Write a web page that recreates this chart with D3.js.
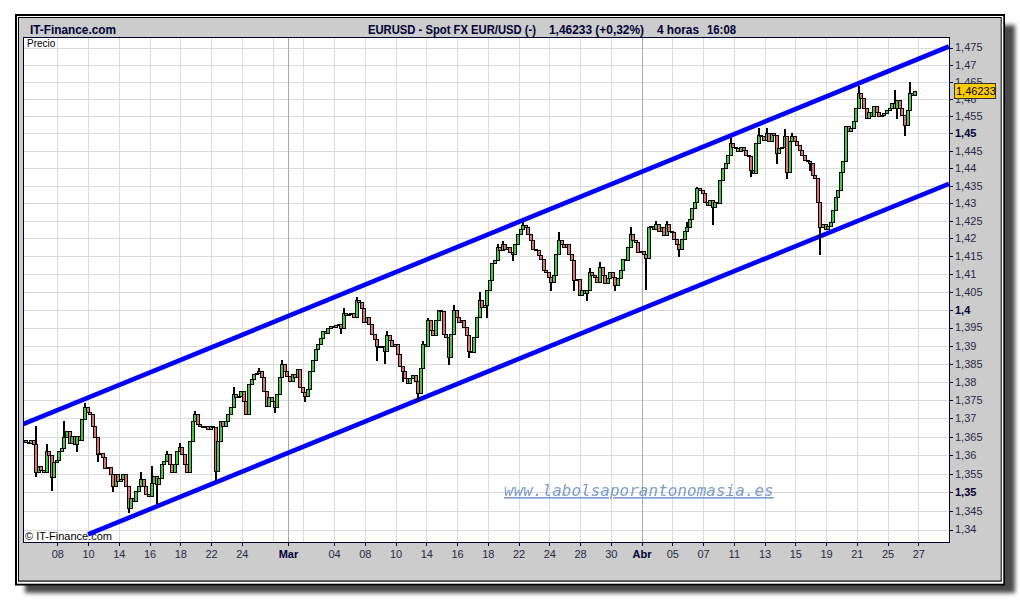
<!DOCTYPE html>
<html><head><meta charset="utf-8">
<script src="https://cdn.jsdelivr.net/npm/d3@7"></script>
<style>html,body{margin:0;padding:0;background:#fff;} svg{display:block}</style>
</head><body>
<script>
// ---------- DATA (4-hour EUR/USD closes) ----------
const closes = [
1.3635,1.3632,1.3640,1.3630,1.3553,1.3570,1.3560,1.3555,1.3610,1.3600,
1.3540,1.3580,1.3588,1.3610,1.3620,1.3648,1.3666,1.3634,1.3652,1.3630,
1.3652,1.3640,1.3698,1.3730,1.3717,1.3712,1.3680,1.3648,1.3603,1.3607,
1.3594,1.3566,1.3568,1.3548,1.3516,1.3548,1.3530,1.3535,1.3548,1.3516,
1.3457,1.3485,1.3475,1.3503,1.3516,1.3535,1.3516,1.3494,1.3489,1.3525,
1.3544,1.3521,1.3539,1.3575,1.3585,1.3603,1.3575,1.3553,1.3575,1.3612,
1.3621,1.3603,1.3575,1.3553,1.3639,1.3694,1.3712,1.3685,1.3680,1.3675,
1.3680,1.3671,1.3680,1.3675,1.3557,1.3639,1.3694,1.3680,1.3694,1.3712,
1.3730,1.3766,1.3757,1.3762,1.3775,1.3748,1.3712,1.3794,1.3807,1.3821,
1.3825,1.3830,1.3812,1.3775,1.3734,1.3757,1.3748,1.3730,1.3766,1.3812,
1.3848,1.3830,1.3816,1.3803,1.3821,1.3812,1.3835,1.3785,1.3771,1.3762,
1.3780,1.3830,1.3860,1.3890,1.3905,1.3920,1.3940,1.3935,1.3950,1.3955,
1.3952,1.3956,1.3960,1.3950,1.3989,1.3984,1.3987,1.3989,1.3980,1.4026,
1.4022,1.4003,1.3965,1.3980,1.3961,1.3933,1.3919,1.3900,1.3895,1.3900,
1.3886,1.3928,1.3914,1.3900,1.3905,1.3877,1.3844,1.3830,1.3811,1.3797,
1.3811,1.3820,1.3802,1.3769,1.3839,1.3905,1.3900,1.3970,1.3942,1.3928,
1.3970,1.3998,1.3995,1.3933,1.3923,1.3867,1.3933,1.3998,1.3980,1.3965,
1.3970,1.3951,1.3928,1.3886,1.3881,1.3923,1.3980,1.4026,1.4007,1.4012,
1.4054,1.4082,1.4129,1.4138,1.4176,1.4168,1.4185,1.4171,1.4176,1.4162,
1.4157,1.4185,1.4213,1.4227,1.4237,1.4232,1.4213,1.4194,1.4171,1.4166,
1.4152,1.4143,1.4110,1.4106,1.4092,1.4078,1.4096,1.4157,1.4194,1.4185,
1.4176,1.4185,1.4157,1.4138,1.4082,1.4085,1.4040,1.4054,1.4045,1.4054,
1.4106,1.4096,1.4092,1.4078,1.4120,1.4096,1.4073,1.4087,1.4106,1.4092,
1.4068,1.4087,1.4110,1.4143,1.4138,1.4176,1.4213,1.4194,1.4190,1.4162,
1.4164,1.4155,1.4145,1.4232,1.4236,1.4227,1.4241,1.4222,1.4232,1.4208,
1.4241,1.4222,1.4217,1.4198,1.4183,1.4169,1.4198,1.4222,1.4232,1.4256,
1.4285,1.4304,1.4342,1.4337,1.4328,1.4304,1.4294,1.4309,1.4289,1.4304,
1.4299,1.4366,1.4400,1.4414,1.4438,1.4472,1.4462,1.4458,1.4448,1.4462,
1.4453,1.4438,1.4434,1.4395,1.4386,1.4472,1.4496,1.4491,1.4482,1.4501,
1.4477,1.4501,1.4496,1.4443,1.4458,1.4462,1.4491,1.4390,1.4477,1.4491,
1.4477,1.4467,1.4453,1.4438,1.4424,1.4419,1.4414,1.4381,1.4371,1.4304,
1.4232,1.4241,1.4227,1.4236,1.4246,1.4280,1.4318,1.4337,1.4390,1.4419,
1.4520,1.4506,1.4515,1.4535,1.4573,1.4616,1.4602,1.4573,1.4544,1.4563,
1.4549,1.4578,1.4563,1.4549,1.4554,1.4559,1.4568,1.4573,1.4588,1.4573,
1.4597,1.4573,1.4554,1.4525,1.4568,1.4616,1.4611,1.46233
];
const firstOpen = 1.3640;
// bars whose wicks reach beyond the body
const spikeBars  = [4,8,10,15,20,23,28,34,40,45,49,51,55,60,66,74,81,91,97,100,109,123,124,129,137,140,141,147,153,155,157,165,167,173,177,180,184,186,190,194,205,208,214,219,220,224,230,236,242,246,250,255,258,262,268,275,283,286,289,293,296,297,299,306,310,325,339,340,343,345];
const spikeLows  = [1.3543,null,1.3507,null,1.3612,null,1.3585,1.3502,1.3448,null,null,1.3471,null,null,null,1.3532,null,null,1.3716,null,1.3748,1.3936,null,null,1.3860,1.3853,null,1.3802,1.3750,null,null,1.3850,null,1.3867,null,1.3980,null,null,1.4138,null,1.4054,null,1.4054,1.4026,null,null,1.4054,null,1.4058,null,null,1.4150,null,null,1.4241,null,1.4376,null,null,1.4414,null,1.4371,null,1.4395,1.4155,null,null,1.4544,1.4496,null];
const spikeHighs = [1.3680,1.3630,null,1.3694,null,1.3741,null,null,null,1.3553,1.3570,null,1.3612,1.3632,1.3719,null,1.3785,1.3837,null,1.3859,null,null,1.4003,1.4034,null,null,1.3940,null,null,1.3913,1.3977,null,1.4012,null,1.4049,null,1.4185,1.4193,null,1.4246,null,1.4217,null,null,1.4115,1.4134,null,1.4232,null,1.4250,1.4250,null,1.4246,1.4347,null,1.4487,null,1.4515,1.4515,null,1.4513,null,1.4500,null,null,1.4636,1.4626,null,null,1.4650];

const yTicks = [1.34,1.345,1.35,1.355,1.36,1.365,1.37,1.375,1.38,1.385,1.39,1.395,1.40,1.405,1.41,1.415,1.42,1.425,1.43,1.435,1.44,1.445,1.45,1.455,1.46,1.465,1.47,1.475];
const yTicksBold = [1.35,1.40,1.45];
const xTickDates = ["2011-02-08","2011-02-10","2011-02-14","2011-02-16","2011-02-18","2011-02-22","2011-02-24","2011-03-01","2011-03-04","2011-03-08","2011-03-10","2011-03-14","2011-03-16","2011-03-18","2011-03-22","2011-03-24","2011-03-28","2011-03-30","2011-04-01","2011-04-05","2011-04-07","2011-04-11","2011-04-13","2011-04-15","2011-04-19","2011-04-21","2011-04-25","2011-04-27"];
const xTickLabels = ["08","10","14","16","18","22","24","Mar","04","08","10","14","16","18","22","24","28","30","Abr","05","07","11","13","15","19","21","25","27"];
const xTickBold = ["Mar","Abr"];
const gridOnlyDates = ["2011-02-28","2011-03-02"];
const monthDates = ["2011-03-01","2011-04-01"];

const upperChannelDays = [-2.23, 57.99], upperChannelPrices = [1.3684, 1.4753];
const lowerChannelDays = [2.0, 57.99],   lowerChannelPrices = [1.3387, 1.4355];
const lastPrice = 1.46233;
const firstBarDay = -2.1, barsPerDay = 6;

const brand = "IT-Finance.com";
const titleParts = ["EURUSD - Spot FX EUR/USD (-)", "1,46233 (+0,32%)", "4 horas", "16:08"];
const watermark = "www.labolsaporantonomasia.es";

// ---------- HELPERS ----------
function tradingIndex(s){
  const base = Date.UTC(2011,1,8);
  const d = new Date(s+"T00:00:00Z").getTime();
  let n = 0, cur = base;
  while (cur < d){ cur += 86400000; const wd = new Date(cur).getUTCDay(); if (wd!==0 && wd!==6) n++; }
  return n;
}
const loc = d3.formatLocale({decimal:",", thousands:".", grouping:[3], currency:["","€"]});
const fmtTick = loc.format("~g");
const fmtLast = loc.format(".5f");

// ---------- LAYOUT ----------
const W = 1020, H = 600;
const P = {l:23, t:37.5, r:949, b:542};
const FONT = "'Liberation Sans', Arial, sans-serif";
const NAVY = "#000033";

const x = d3.scaleLinear().domain([0, 56]).range([57.3, 918.3]);
const y = d3.scaleLog().domain([1.34, 1.475]).range([529.5, 47.5]);

const svg = d3.select("body").append("svg").attr("width", W).attr("height", H)
  .style("font-family", FONT);

const defs = svg.append("defs");
defs.append("filter").attr("id","sh").attr("x","-5%").attr("y","-5%").attr("width","110%").attr("height","110%")
  .append("feGaussianBlur").attr("stdDeviation", 2);
defs.append("clipPath").attr("id","plotclip").append("rect")
  .attr("x",P.l+1).attr("y",P.t+0.5).attr("width",P.r-P.l-1).attr("height",P.b-P.t-0.5);

// background + shadow + frame
svg.append("rect").attr("width",W).attr("height",H).attr("fill","#fff");
svg.append("rect").attr("x",25).attr("y",25).attr("width",990).attr("height",568).attr("fill","#4a4a4a").attr("filter","url(#sh)");
svg.append("rect").attr("x",15).attr("y",14).attr("width",990).attr("height",571.5).attr("fill","#000");
svg.append("rect").attr("x",17).attr("y",16).attr("width",986.3).attr("height",567.7).attr("fill","#fff");
svg.append("rect").attr("x",18).attr("y",17).attr("width",983.7).attr("height",564.7).attr("fill","#000");
svg.append("rect").attr("x",19).attr("y",18).attr("width",981.7).attr("height",562.5).attr("fill","#cccccc");

// header
svg.append("text").attr("x",30).attr("y",34).attr("font-size",12).attr("font-weight","bold").attr("fill",NAVY)
  .attr("textLength",86).attr("lengthAdjust","spacingAndGlyphs").text(brand);
const titleX = [368, 549, 657, 707];
const titleW = [168, 95, 42, 29];
titleParts.forEach((s,i)=>svg.append("text").attr("x",titleX[i]).attr("y",34).attr("font-size",12)
  .attr("font-weight","bold").attr("fill",NAVY)
  .attr("textLength",titleW[i]).attr("lengthAdjust","spacingAndGlyphs").text(s));

// plot area
svg.append("rect").attr("x",P.l).attr("y",P.t).attr("width",P.r-P.l).attr("height",P.b-P.t).attr("fill","#fff");

const grid = svg.append("g").attr("shape-rendering","crispEdges");
grid.selectAll("line.h").data(yTicks).join("line").attr("class","h")
  .attr("x1",P.l).attr("x2",P.r).attr("y1",d=>Math.round(y(d))+0.5).attr("y2",d=>Math.round(y(d))+0.5)
  .attr("stroke","#dcdcdc");
const vDays = xTickDates.concat(gridOnlyDates).map(tradingIndex);
grid.selectAll("line.v").data(vDays).join("line").attr("class","v")
  .attr("x1",d=>Math.round(x(d))+0.5).attr("x2",d=>Math.round(x(d))+0.5).attr("y1",P.t).attr("y2",P.b)
  .attr("stroke","#dcdcdc");
grid.selectAll("line.m").data(monthDates.map(tradingIndex)).join("line").attr("class","m")
  .attr("x1",d=>Math.round(x(d))+0.5).attr("x2",d=>Math.round(x(d))+0.5).attr("y1",P.t).attr("y2",P.b)
  .attr("stroke","#a8a8a8");

// labels inside plot
svg.append("text").attr("x",27).attr("y",47).attr("font-size",10).attr("fill","#000").text("Precio");
svg.append("text").attr("x",25).attr("y",540).attr("font-size",11).attr("fill","#000").text("\u00A9 IT-Finance.com");

// watermark
svg.append("text").attr("x",504).attr("y",496).attr("font-family","'DejaVu Sans Mono', monospace")
  .attr("font-style","italic").attr("font-size",16).attr("fill","#6f92c4").attr("opacity",0.9)
  .style("text-decoration","underline").text(watermark);

const plot = svg.append("g").attr("clip-path","url(#plotclip)");

// channel lines
const line = d3.line().x(d=>x(d[0])).y(d=>y(d[1]));
[[upperChannelDays, upperChannelPrices],[lowerChannelDays, lowerChannelPrices]].forEach(([ds,ps])=>{
  plot.append("path").datum(ds.map((dd,i)=>[dd,ps[i]])).attr("d",line)
    .attr("fill","none").attr("stroke","#0000ff").attr("stroke-width",4.6);
});

// candles
const spikeMap = new Map(spikeBars.map((b,i)=>[b,{lo:spikeLows[i],hi:spikeHighs[i]}]));
const bars = closes.map((c,t)=>{
  const o = t===0 ? firstOpen : closes[t-1];
  const sp = spikeMap.get(t) || {};
  return {t, o, c,
    h: Math.max(o,c, sp.hi==null ? -Infinity : sp.hi),
    l: Math.min(o,c, sp.lo==null ? Infinity : sp.lo),
    day: firstBarDay + t/barsPerDay};
});
const cg = plot.append("g").attr("shape-rendering","crispEdges");
cg.selectAll("line").data(bars).join("line")
  .attr("x1",d=>Math.round(x(d.day))+1).attr("x2",d=>Math.round(x(d.day))+1)
  .attr("y1",d=>Math.round(y(d.h))).attr("y2",d=>Math.round(y(d.l))+1)
  .attr("stroke","#000").attr("stroke-width",2);
cg.selectAll("rect").data(bars).join("rect")
  .attr("x",d=>Math.round(x(d.day))-1+0.5)
  .attr("y",d=>Math.round(y(Math.max(d.o,d.c)))+0.5)
  .attr("width",3)
  .attr("height",d=>Math.max(1, Math.round(y(Math.min(d.o,d.c))) - Math.round(y(Math.max(d.o,d.c)))))
  .attr("fill",d=>d.c>=d.o ? "#3ccc3c" : "#e07070")
  .attr("stroke","#000").attr("stroke-width",1);

// plot border
svg.append("rect").attr("x",P.l+0.5).attr("y",P.t).attr("width",P.r-P.l).attr("height",P.b-P.t)
  .attr("fill","none").attr("stroke",NAVY).attr("stroke-width",1).attr("shape-rendering","crispEdges");

// y axis (right)
const ya = svg.append("g");
ya.selectAll("line").data(yTicks).join("line").attr("shape-rendering","crispEdges")
  .attr("x1",P.r).attr("x2",P.r+4).attr("y1",d=>Math.round(y(d))+0.5).attr("y2",d=>Math.round(y(d))+0.5)
  .attr("stroke",NAVY);
ya.selectAll("text").data(yTicks).join("text")
  .attr("x",P.r+6).attr("y",d=>y(d)).attr("dy","0.36em").attr("font-size",11)
  .attr("font-weight",d=>yTicksBold.some(b=>Math.abs(b-d)<1e-9)?"bold":"normal")
  .attr("fill",d=>yTicksBold.some(b=>Math.abs(b-d)<1e-9)?NAVY:"#2a2a44")
  .text(d=>fmtTick(d));

// x axis (bottom)
const xa = svg.append("g");
const xDays = xTickDates.map(tradingIndex);
xa.selectAll("line").data(xDays).join("line").attr("shape-rendering","crispEdges")
  .attr("x1",d=>Math.round(x(d))+0.5).attr("x2",d=>Math.round(x(d))+0.5).attr("y1",P.b).attr("y2",P.b+4)
  .attr("stroke",NAVY);
xa.selectAll("text").data(xTickLabels).join("text")
  .attr("x",(d,i)=>x(xDays[i])+0.5).attr("y",558).attr("text-anchor","middle").attr("font-size",11)
  .attr("font-weight",d=>xTickBold.includes(d)?"bold":"normal")
  .attr("fill",d=>xTickBold.includes(d)?NAVY:"#2a2a44").text(d=>d);

// last price marker
const ly = y(lastPrice);
svg.append("rect").attr("x",954.5).attr("y",Math.round(ly)-7.5).attr("width",41).attr("height",15)
  .attr("fill","#ffcc00").attr("stroke","#333").attr("stroke-width",1);
svg.append("text").attr("x",956).attr("y",ly).attr("dy","0.36em").attr("font-size",11).attr("fill","#000")
  .text(fmtLast(lastPrice));
</script>
</body></html>
